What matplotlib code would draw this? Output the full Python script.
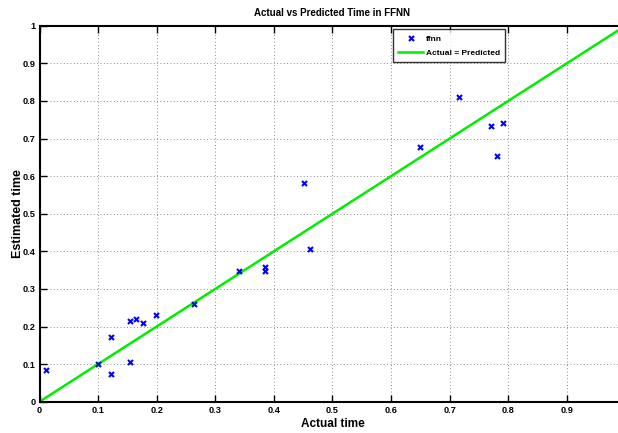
import matplotlib
matplotlib.use("Agg")
import matplotlib.pyplot as plt
import numpy as np

plt.rcParams['font.family'] = ['Liberation Sans', 'DejaVu Sans']
plt.rcParams['font.weight'] = 'bold'

actual = [0.0106, 0.099, 0.1215, 0.1215, 0.154, 0.154, 0.165, 0.1766, 0.198,
          0.2636, 0.341, 0.385, 0.385, 0.451, 0.461, 0.649, 0.7153, 0.770,
          0.7807, 0.7915]
estimated = [0.085, 0.0995, 0.171, 0.0745, 0.215, 0.105, 0.219, 0.210, 0.2305,
             0.2606, 0.347, 0.358, 0.3475, 0.5825, 0.407, 0.6766, 0.8096, 0.734,
             0.6527, 0.7404]
ideal = [0.0, 1.0]
ticks = [0, 0.1, 0.2, 0.3, 0.4, 0.5, 0.6, 0.7, 0.8, 0.9, 1]
tick_labels = ['0', '0.1', '0.2', '0.3', '0.4', '0.5', '0.6', '0.7', '0.8', '0.9', '1']

fig = plt.figure(figsize=(6.18, 4.33), dpi=100)
W, H = 618, 433
left, right, top, bottom = 39.5, 625.5, 25.7, 401.7
ax = fig.add_axes([left / W, 1 - bottom / H, (right - left) / W, (bottom - top) / H])

ax.plot(actual, estimated, linestyle='none', marker='x', color='#0000ff',
        markersize=3.6, markeredgewidth=1.5, label='ffnn', zorder=3)
ax.plot(ideal, ideal, color='#00ee00', linewidth=1.8, label='Actual = Predicted', zorder=2)

ax.set_xlim(0, 1)
ax.set_ylim(0, 1)
# the x axis runs past the right edge of the canvas, so its last label is left off
ax.set_xticks(ticks[:-1])
ax.set_xticklabels(tick_labels[:-1])
ax.set_yticks(ticks)
ax.set_yticklabels(tick_labels)
ax.tick_params(direction='in', length=5, width=1, top=True, right=True,
               labelsize=6.6, pad=3)
for s in ax.spines.values():
    s.set_linewidth(1.5)

ax.grid(True, linestyle=(0, (1, 3)), color='#666666', linewidth=0.6)

ax.set_title('Actual vs Predicted Time in FFNN', fontsize=7, fontweight='bold', pad=7)
ax.set_xlabel('Actual time', fontsize=8.5, fontweight='bold', labelpad=2)
ax.set_ylabel('Estimated time', fontsize=9, fontweight='bold', labelpad=-1)

leg = fig.legend(loc='upper left', bbox_to_anchor=(392.7 / W, 1 - 29.3 / H),
                 fontsize=6.0, frameon=True, fancybox=False, edgecolor='black',
                 handlelength=3.0, borderpad=0.65, labelspacing=0.8,
                 handletextpad=0.3, borderaxespad=0)
leg.get_frame().set_linewidth(1.0)

fig.savefig('out.png', dpi=100)
